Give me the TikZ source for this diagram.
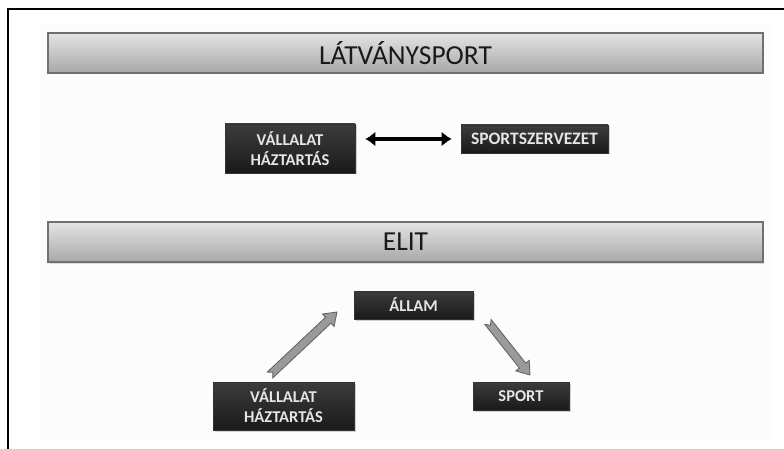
\documentclass[tikz,border=0pt]{standalone}
\usepackage{fontspec}
\setmainfont{Carlito}
\usetikzlibrary{calc,shadows,arrows.meta}
\definecolor{slidebg}{HTML}{FCFCFC}
\definecolor{boxtop}{HTML}{3C3C3C}
\definecolor{boxbot}{HTML}{1A1A1A}
\definecolor{bartop}{HTML}{E4E4E4}
\definecolor{barbot}{HTML}{A8A8A8}
\definecolor{barline}{HTML}{707070}
\definecolor{arrfill}{HTML}{9A9A9A}
\definecolor{arrline}{HTML}{5E5E5E}
\tikzset{
  banner/.style={draw=barline, line width=1.2pt, top color=bartop, bottom color=barbot,
    minimum width=715pt, minimum height=40pt, inner sep=0pt,
    font=\fontsize{27.5}{30}\selectfont, text=black!90,
    drop shadow={opacity=0.25, shadow xshift=1pt, shadow yshift=-1.5pt}},
  darkbox/.style={fill=boxbot, top color=boxtop, bottom color=boxbot, draw=black!80, line width=0.6pt,
    inner sep=0pt, align=center, text=white!90!black,
    font=\fontsize{16.5}{20}\selectfont\bfseries,
    drop shadow={opacity=0.35, shadow xshift=1.5pt, shadow yshift=-1.5pt}},
  blockarrow/.style={fill=arrfill, draw=arrline, line width=0.8pt, line join=miter}
}
\begin{document}
\begin{tikzpicture}[x=1pt,y=-1pt]
\useasboundingbox (0,0) rectangle (784,449);
\fill[white] (0,0) rectangle (784,449);
\fill[slidebg] (40,25) rectangle (773,440);
\draw[line width=1.5pt] (784,9) -- (8,9) -- (8,449);

\node[banner] (b1) at (405.5,53) {LÁTVÁNYSPORT};
\node[banner] (b2) at (405.5,242) {ELIT};

\node[darkbox, minimum width=130pt, minimum height=49pt] (vh1) at (290,148.5) {VÁLLALAT\\HÁZTARTÁS};
\node[darkbox, minimum width=147pt, minimum height=28pt, font=\fontsize{17.5}{21}\selectfont\bfseries] (sz) at (534.5,139) {SPORTSZERVEZET};
\node[darkbox, minimum width=119pt, minimum height=28pt] (allam) at (413.5,305) {ÁLLAM};
\node[darkbox, minimum width=141pt, minimum height=48pt] (vh2) at (283.5,406) {VÁLLALAT\\HÁZTARTÁS};
\node[darkbox, minimum width=96pt, minimum height=28pt] (sport) at (521,396) {SPORT};

% double arrow
\draw[line width=4.5pt, {Latex[length=10pt,width=15pt]}-{Latex[length=10pt,width=15pt]},
  shorten <=10pt, shorten >=9pt] (vh1.east |- sz.west) -- (sz.west);

% block arrows
\coordinate (t1) at (270,375);
\coordinate (h1) at (337,312);
\coordinate (t2) at (488,322);
\coordinate (h2) at (530,375);
\foreach \t/\h in {t1/h1, t2/h2}{
  \coordinate (B) at ($(\h)!12pt!(\t)$);
  \coordinate (N) at ($(\t)!4pt!(\h)$);
  \draw[blockarrow]
    ($(\t)!4pt!90:(\h)$) -- ($(B)!4pt!-90:(\t)$) -- ($(B)!8.5pt!-90:(\t)$) -- (\h)
    -- ($(B)!8.5pt!90:(\t)$) -- ($(B)!4pt!90:(\t)$) -- ($(\t)!4pt!-90:(\h)$) -- (N) -- cycle;
}
\end{tikzpicture}
\end{document}
